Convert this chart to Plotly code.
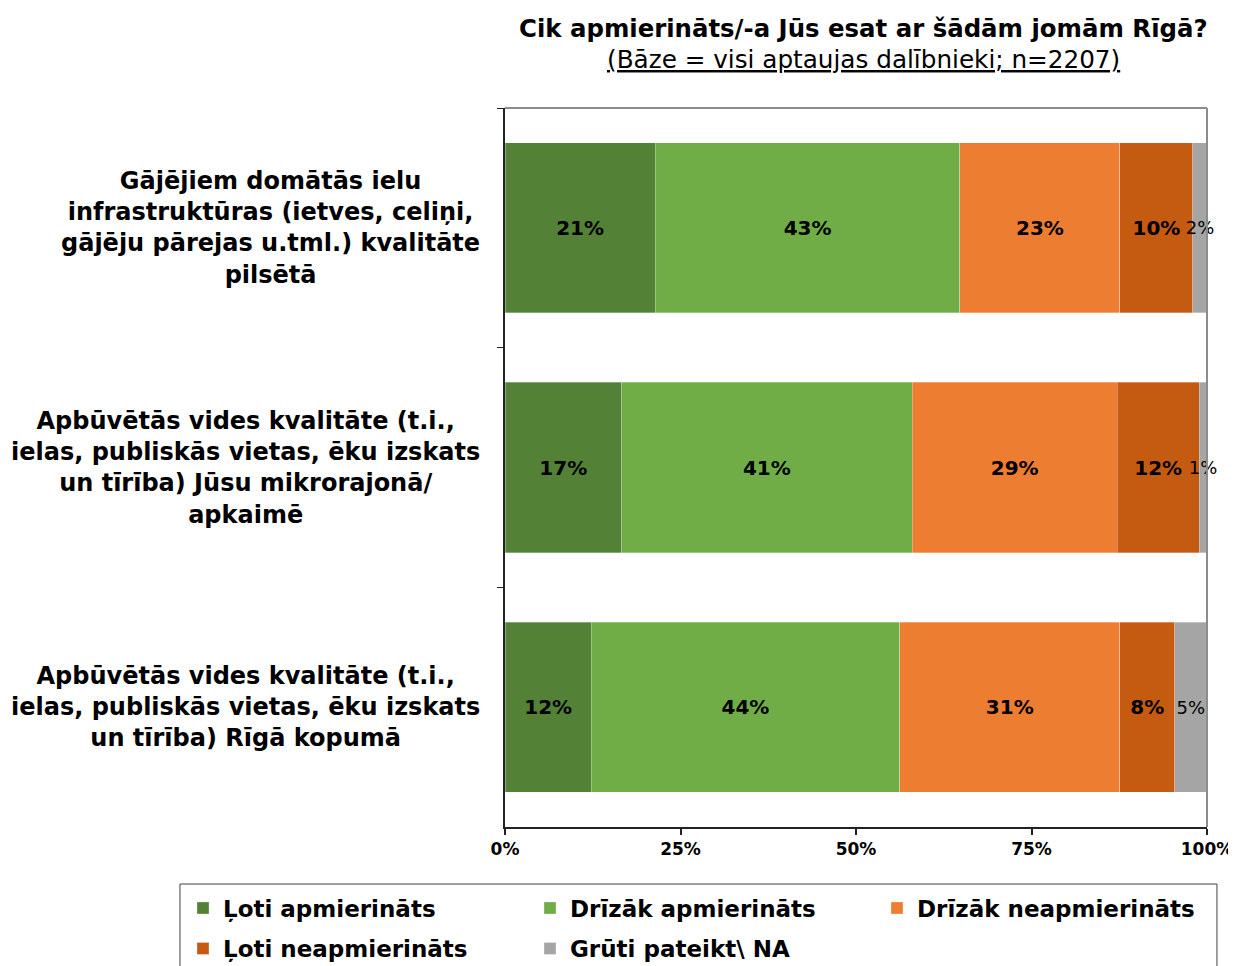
import plotly.graph_objects as go

categories = [
    "Gājējiem domātās ielu<br>infrastruktūras (ietves, celiņi,<br>gājēju pārejas u.tml.) kvalitāte<br>pilsētā",
    "Apbūvētās vides kvalitāte (t.i.,<br>ielas, publiskās vietas, ēku izskats<br>un tīrība) Jūsu mikrorajonā/<br>apkaimē",
    "Apbūvētās vides kvalitāte (t.i.,<br>ielas, publiskās vietas, ēku izskats<br>un tīrība) Rīgā kopumā",
]
series_names = ["Ļoti apmierināts", "Drīzāk apmierināts", "Drīzāk neapmierināts",
                "Ļoti neapmierināts", "Grūti pateikt\\ NA"]
loti_apm = [21.4, 16.6, 12.3]
drizak_apm = [43.4, 41.4, 43.9]
drizak_neapm = [22.8, 29.2, 31.4]
loti_neapm = [10.4, 11.7, 7.8]
gruti = [2.0, 1.1, 4.6]
series_values = [loti_apm, drizak_apm, drizak_neapm, loti_neapm, gruti]
colors = ["#538135", "#70AD47", "#ED7D31", "#C55A11", "#A5A5A5"]
x_ticks = [0, 25, 50, 75, 100]

FONT = "DejaVu Sans"
fig = go.Figure()
for i, (name, vals) in enumerate(zip(series_names, series_values)):
    last = i == len(series_names) - 1
    fig.add_trace(go.Bar(
        y=categories, x=vals, name=name, orientation="h",
        marker=dict(color=colors[i], line=dict(width=0.6, color="rgba(255,255,255,0.5)")),
        text=[f"{round(v)}%" for v in vals],
        textposition="inside", insidetextanchor="middle", textangle=0,
        constraintext="none", cliponaxis=False,
        insidetextfont=dict(family=FONT, size=18 if last else 20, color="black",
                            weight="normal" if last else "bold"),
        hoverinfo="skip",
        legend="legend" if i < 3 else "legend2",
    ))

legend_common = dict(
    orientation="h", xanchor="left", yanchor="middle",
    xref="paper", yref="paper",
    entrywidth=302, entrywidthmode="pixels",
    font=dict(family=FONT, size=23, weight="bold", color="black"),
    borderwidth=0, bgcolor="rgba(0,0,0,0)",
    traceorder="normal", itemclick=False, itemdoubleclick=False,
)

fig.update_layout(
    width=1228, height=958,
    barmode="stack", bargap=0.29,
    plot_bgcolor="white", paper_bgcolor="white",
    margin=dict(l=497, r=29, t=100, b=139, autoexpand=False),
    font=dict(family=FONT, color="black"),
    showlegend=True,
    legend=dict(x=-0.4587, y=-0.1127, **legend_common),
    legend2=dict(x=-0.4587, y=-0.1690, **legend_common),
)
fig.update_xaxes(
    range=[0, 100], tickvals=x_ticks, ticktext=[f"{t}%" for t in x_ticks],
    showgrid=False, zeroline=False, showline=True, linecolor="#222", linewidth=2,
    ticks="outside", ticklen=6, tickcolor="#222", tickwidth=1.5,
    tickfont=dict(family=FONT, size=17, weight="bold", color="black"),
    automargin=False,
)
fig.update_yaxes(
    autorange="reversed", showgrid=False, showline=True, linecolor="#222", linewidth=2,
    ticks="outside", tickson="boundaries", ticklen=6, tickcolor="#222",
    showticklabels=False, automargin=False,
)
# top and right frame
fig.add_shape(type="line", xref="paper", yref="paper", x0=0, x1=1, y0=1, y1=1,
              line=dict(color="#8c8c8c", width=2))
fig.add_shape(type="line", xref="paper", yref="paper", x0=1, x1=1, y0=0, y1=1,
              line=dict(color="#8c8c8c", width=2))
# legend frame
fig.add_shape(type="rect", xref="paper", yref="paper", x0=-0.463, x1=1.0142,
              y0=-0.0793, y1=-0.25, line=dict(color="#404040", width=1), layer="below")

for c in categories:
    fig.add_annotation(x=-0.0328, xref="paper", y=c, yref="y", text=c, showarrow=False,
                       xanchor="right", yanchor="middle", align="center",
                       font=dict(family=FONT, size=24, weight="bold", color="black"))

fig.add_annotation(x=0.51, xref="paper", y=1.111, yref="paper", yanchor="middle",
                   text="<b>Cik apmierināts/-a Jūs esat ar šādām jomām Rīgā?</b>",
                   showarrow=False, font=dict(family=FONT, size=24.4, color="black"))
fig.add_annotation(x=0.51, xref="paper", y=1.067, yref="paper", yanchor="middle",
                   text="<u>(Bāze = visi aptaujas dalībnieki; n=2207)</u>",
                   showarrow=False, font=dict(family=FONT, size=24.7, color="black"))

fig.write_html("out.html")
